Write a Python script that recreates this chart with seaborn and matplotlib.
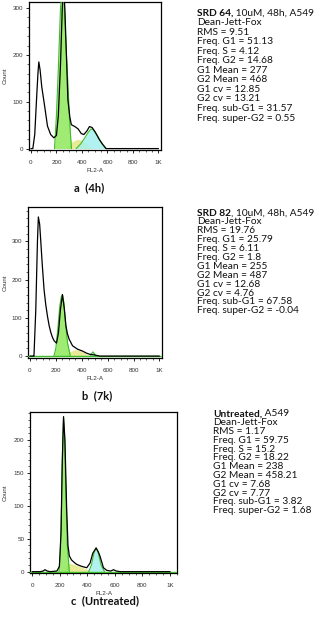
import matplotlib
matplotlib.use("Agg")
import matplotlib.pyplot as plt
import seaborn as sns
import numpy as np
from matplotlib.ticker import MultipleLocator

# ---------------- data ----------------
xticks = [0, 200, 400, 600, 800, 1000]
xtick_labels = ["0", "200", "400", "600", "800", "1K"]

# Panel a (4h)
a_x = [0, 15, 30, 45, 55, 62, 72, 85, 108, 130, 155, 180, 200, 215, 232, 246, 256, 266, 290, 305,
       317, 345, 370, 395, 415, 440, 459, 480, 505, 537, 565, 589, 620, 1000]
a_y = [0, 0, 30, 110, 160, 185, 168, 132, 90, 48, 30, 23, 28, 70, 180, 300, 345, 300, 104, 68,
       51, 47, 42, 32, 30, 38, 47, 45, 35, 19, 8, 0, 0, 0]
a_g1_x = [185, 200, 215, 232, 246, 256, 270, 288, 303, 318]
a_g1_y = [0, 70, 170, 300, 345, 345, 250, 150, 60, 0]
a_s_x = [280, 320, 360, 400, 440, 475]
a_s_y = [0, 14, 20, 18, 9, 0]
a_g2_x = [355, 390, 420, 450, 472, 490, 520, 550, 590]
a_g2_y = [0, 10, 22, 35, 42, 40, 28, 14, 0]
a_yticks = [0, 100, 200, 300]

# Panel b (7k)
b_x = [0, 25, 31, 45, 58, 65, 75, 83, 95, 109, 122, 135, 148, 161, 175, 187, 205, 220, 235, 251,
       265, 278, 290, 303, 329, 368, 407, 435, 459, 498, 540, 1000]
b_y = [0, 0, 0, 120, 300, 364, 345, 304, 240, 174, 135, 105, 80, 62, 48, 40, 34, 60, 120, 161,
       125, 79, 58, 44, 27, 18, 13, 8, 5, 3, 0, 0]
b_g1_x = [185, 200, 215, 230, 242, 251, 262, 275, 290, 312]
b_g1_y = [0, 20, 70, 130, 155, 161, 140, 85, 35, 0]
b_s_x = [270, 310, 350, 390, 430, 470]
b_s_y = [0, 12, 17, 14, 6, 0]
b_g2_x = [465, 478, 487, 496, 510]
b_g2_y = [0, 7, 11, 7, 0]
b_yticks = [0, 100, 200, 300]

# Panel c (Untreated)
c_x = [0, 60, 80, 94, 110, 130, 180, 198, 210, 218, 228, 238, 250, 260, 270, 285, 305, 324, 360,
       396, 420, 440, 464, 480, 493, 517, 541, 570, 590, 610, 640, 1000]
c_y = [0, 0, 1, 3, 1, 0, 1, 8, 60, 160, 235, 200, 100, 40, 24, 18, 14, 11, 8,
       6, 13, 28, 36, 30, 23, 6, 2, 1, 3, 1, 0, 0]
c_g1_x = [195, 205, 215, 222, 228, 236, 245, 255, 270]
c_g1_y = [0, 30, 110, 200, 233, 200, 120, 40, 0]
c_s_x = [235, 260, 290, 330, 370, 410, 430]
c_s_y = [0, 13, 12, 9, 6, 2, 0]
c_g2_x = [410, 430, 448, 464, 480, 500, 525]
c_g2_y = [0, 10, 28, 36, 28, 10, 0]
c_yticks = [0, 50, 100, 150, 200]

titles_bold = ["SRD 64,", "SRD 82", "Untreated,"]
titles_rest = [" 10uM, 48h, A549", ", 10uM, 48h, A549", " A549"]
stats_a = ["Dean-Jett-Fox", "RMS = 9.51", "Freq. G1 = 51.13", "Freq. S = 4.12", "Freq. G2 = 14.68",
           "G1 Mean = 277", "G2 Mean = 468", "G1 cv = 12.85", "G2 cv = 13.21",
           "Freq. sub-G1 = 31.57", "Freq. super-G2 = 0.55"]
stats_b = ["Dean-Jett-Fox", "RMS = 19.76", "Freq. G1 = 25.79", "Freq. S = 6.11", "Freq. G2 = 1.8",
           "G1 Mean = 255", "G2 Mean = 487", "G1 cv = 12.68", "G2 cv = 4.76",
           "Freq. sub-G1 = 67.58", "Freq. super-G2 = -0.04"]
stats_c = ["Dean-Jett-Fox", "RMS = 1.17", "Freq. G1 = 59.75", "Freq. S = 15.2", "Freq. G2 = 18.22",
           "G1 Mean = 238", "G2 Mean = 458.21", "G1 cv = 7.68", "G2 cv = 7.77",
           "Freq. sub-G1 = 3.82", "Freq. super-G2 = 1.68"]
captions = ["a  (4h)", "b  (7k)", "c  (Untreated)"]

# ---------------- style ----------------
sns.set_style("ticks")
plt.rcParams['font.family'] = ['Liberation Sans', 'DejaVu Sans']

W, H = 320, 618
fig = plt.figure(figsize=(W / 100, H / 100), dpi=100)

def px_axes(l, t, r, b):
    return fig.add_axes([l / W, 1 - b / H, (r - l) / W, (b - t) / H])

G1_FILL = "#8ee85a"
G1_EDGE = "#3dbb2a"
S_FILL = "#e6e88c"
G2_FILL = "#a4f0ee"

panels = [
    dict(rect=(29, 2, 161, 150), xlim=(-15, 1020), ylim=(-3, 313), x=a_x, y=a_y,
         g1=(a_g1_x, a_g1_y), s=(a_s_x, a_s_y), g2=(a_g2_x, a_g2_y), yt=a_yticks, ymin=20,
         base=False),
    dict(rect=(28, 207, 162, 358), xlim=(-15, 1020), ylim=(-5, 390), x=b_x, y=b_y,
         g1=(b_g1_x, b_g1_y), s=(b_s_x, b_s_y), g2=(b_g2_x, b_g2_y), yt=b_yticks, ymin=20,
         base=True),
    dict(rect=(30, 412, 177, 573), xlim=(-15, 1050), ylim=(-2, 242), x=c_x, y=c_y,
         g1=(c_g1_x, c_g1_y), s=(c_s_x, c_s_y), g2=(c_g2_x, c_g2_y), yt=c_yticks, ymin=10,
         base=True),
]

for p in panels:
    l, t, r, b = p['rect']
    ax = px_axes(l, t, r, b)
    ax.fill_between(p['s'][0], p['s'][1], color=S_FILL, alpha=0.9, lw=0, zorder=1)
    ax.fill_between(p['g2'][0], p['g2'][1], color=G2_FILL, alpha=0.85, lw=0, zorder=2)
    ax.fill_between(p['g1'][0], p['g1'][1], color=G1_FILL, alpha=0.85, lw=0, zorder=3)
    ax.plot(p['g1'][0], p['g1'][1], color=G1_EDGE, lw=0.8, zorder=4)
    ax.plot(p['g2'][0], p['g2'][1], color=G1_EDGE, lw=0.8, zorder=4)
    if p['base']:
        ax.axhline(0, color=G1_EDGE, lw=1.0, zorder=4)
    sns.lineplot(x=p['x'], y=p['y'], ax=ax, color="black", lw=0.9, zorder=5,
                 estimator=None, sort=False)
    ax.set_xlim(*p['xlim'])
    ax.set_ylim(*p['ylim'])
    ax.set_xticks(xticks)
    ax.set_xticklabels(xtick_labels)
    ax.set_yticks(p['yt'])
    ax.xaxis.set_minor_locator(MultipleLocator(50))
    ax.yaxis.set_minor_locator(MultipleLocator(p['ymin']))
    ax.tick_params(which='major', direction='out', length=2, width=0.7, labelsize=4.5,
                   labelcolor="#333333")
    ax.tick_params(axis='x', which='major', pad=5)
    ax.tick_params(axis='y', which='major', pad=2)
    ax.tick_params(which='minor', direction='out', length=1.2, width=0.5)
    for s in ax.spines.values():
        s.set_linewidth(0.9)
        s.set_color("black")
    ax.set_xlabel("FL2-A", fontsize=4.5, color="#333333")
    ax.set_ylabel("Count", fontsize=4.5, color="#333333")
    hgt = b - t
    wid = r - l
    ax.xaxis.set_label_coords(0.5, -18.0 / hgt)
    ax.yaxis.set_label_coords(-(l - 8.0) / wid, 0.5)

# overlay for texts in pixel coordinates
tax = fig.add_axes([0, 0, 1, 1])
tax.set_xlim(0, W)
tax.set_ylim(H, 0)
tax.axis('off')

TXT_FONT = ['Lato', 'DejaVu Sans']
FS = 7.3
blocks = [(197, 13, 9.55, stats_a), (197, 213, 8.9, stats_b), (213, 414, 8.8, stats_c)]
for i, (x0, y0, dy, stats) in enumerate(blocks):
    t1 = tax.text(x0, y0, titles_bold[i], fontsize=FS, fontweight='bold', family=TXT_FONT,
                  ha='left', va='center', color='#111111')
    tax.annotate(titles_rest[i], xy=(1, 0), xycoords=t1, ha='left', va='bottom',
                 fontsize=FS, family=TXT_FONT, color='#111111')
    for j, line in enumerate(stats):
        tax.text(x0, y0 + (j + 1) * dy, line, fontsize=FS, family=TXT_FONT,
                 ha='left', va='center', color='#111111')

for (cx, cy), cap in zip([(89, 188), (97, 396), (105, 601)], captions):
    tax.text(cx, cy, cap, fontsize=8, fontweight='bold', family=TXT_FONT,
             ha='center', va='center', color='#111111')

fig.savefig("out.png", dpi=100)
